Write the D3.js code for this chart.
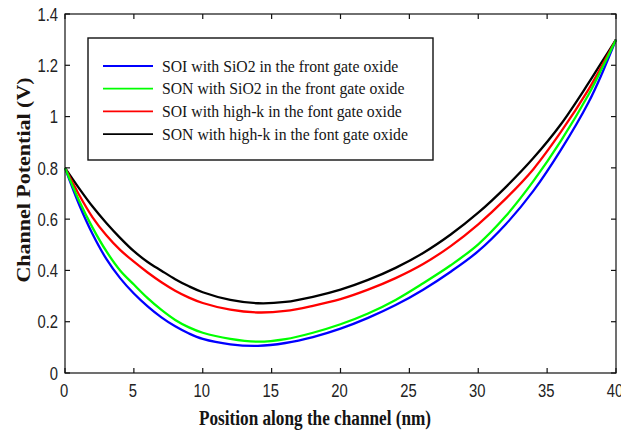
<!DOCTYPE html>
<html>
<head>
<meta charset="utf-8">
<script src="https://cdn.jsdelivr.net/npm/d3@7"></script>
<style>
  html, body { margin: 0; padding: 0; background: #fff; }
  svg { display: block; }
</style>
</head>
<body>
<svg id="chart" width="621" height="435"></svg>
<script>
// Position along the channel (nm)
const positions = [0, 1, 2, 3, 4, 5, 6, 7, 8, 9, 10, 12, 14, 16, 18, 20, 22, 24, 26, 28, 30, 32, 34, 36, 38, 39, 40];

// Channel potential (V) for each device structure
const soiSiO2 = [0.80, 0.66, 0.542, 0.445, 0.37, 0.31, 0.26, 0.217, 0.182, 0.154, 0.133, 0.112, 0.106, 0.117, 0.14, 0.173, 0.215, 0.265, 0.325, 0.395, 0.475, 0.58, 0.71, 0.87, 1.055, 1.17, 1.30];
const sonSiO2 = [0.80, 0.675, 0.567, 0.475, 0.40, 0.345, 0.292, 0.246, 0.207, 0.178, 0.157, 0.133, 0.122, 0.132, 0.157, 0.19, 0.232, 0.285, 0.35, 0.42, 0.502, 0.612, 0.748, 0.905, 1.085, 1.19, 1.30];
const soiHighK = [0.80, 0.697, 0.607, 0.537, 0.48, 0.434, 0.392, 0.354, 0.321, 0.294, 0.273, 0.247, 0.236, 0.242, 0.262, 0.288, 0.325, 0.37, 0.425, 0.495, 0.58, 0.68, 0.795, 0.94, 1.105, 1.20, 1.30];
const sonHighK = [0.80, 0.722, 0.649, 0.585, 0.527, 0.475, 0.433, 0.399, 0.366, 0.338, 0.315, 0.285, 0.272, 0.277, 0.297, 0.325, 0.363, 0.41, 0.468, 0.54, 0.625, 0.725, 0.838, 0.97, 1.13, 1.215, 1.30];

const seriesNames = [
  "SOI with SiO2 in the front gate oxide",
  "SON with SiO2 in the front gate oxide",
  "SOI with high-k in the font gate oxide",
  "SON with high-k in the font gate oxide"
];
const seriesColors = ["#0000ff", "#00ff00", "#ff0000", "#000000"];
const seriesValues = [soiSiO2, sonSiO2, soiHighK, sonHighK];

const xTicks = [0, 5, 10, 15, 20, 25, 30, 35, 40];
const yTicks = [0, 0.2, 0.4, 0.6, 0.8, 1, 1.2, 1.4];

const svg = d3.select("#chart");
const plotLeft = 65, plotRight = 616, plotTop = 14, plotBottom = 373;

const x = d3.scaleLinear().domain([0, 40]).range([plotLeft, plotRight]);
const y = d3.scaleLinear().domain([0, 1.4]).range([plotBottom, plotTop]);

// Curves (drawn under the frame)
const line = d3.line()
  .x((d, i) => x(positions[i]))
  .y(d => y(d))
  .curve(d3.curveCatmullRom.alpha(0.5));

const drawOrder = [3, 2, 0, 1];
svg.append("g").selectAll("path")
  .data(drawOrder)
  .join("path")
  .attr("d", k => line(seriesValues[k]))
  .attr("fill", "none")
  .attr("stroke", k => seriesColors[k])
  .attr("stroke-width", 2.3)
  .attr("stroke-linejoin", "round");

// Frame with inward ticks on all four sides
const frame = svg.append("g").attr("stroke", "#111").attr("stroke-width", 1.2).attr("fill", "none");
frame.append("rect")
  .attr("x", plotLeft).attr("y", plotTop)
  .attr("width", plotRight - plotLeft).attr("height", plotBottom - plotTop);

const tickLen = 5;
xTicks.forEach(t => {
  frame.append("line").attr("x1", x(t)).attr("x2", x(t)).attr("y1", plotBottom).attr("y2", plotBottom - tickLen);
  frame.append("line").attr("x1", x(t)).attr("x2", x(t)).attr("y1", plotTop).attr("y2", plotTop + tickLen);
});
yTicks.forEach(t => {
  frame.append("line").attr("x1", plotLeft).attr("x2", plotLeft + tickLen).attr("y1", y(t)).attr("y2", y(t));
  frame.append("line").attr("x1", plotRight).attr("x2", plotRight - tickLen).attr("y1", y(t)).attr("y2", y(t));
});

// Tick labels in a narrow sans face
const tickFont = "'Liberation Sans', Arial, sans-serif";
svg.append("g").selectAll("g")
  .data(yTicks)
  .join("g")
  .attr("transform", d => `translate(${plotLeft - 7},${y(d)}) scale(0.8,1)`)
  .append("text")
  .attr("text-anchor", "end")
  .attr("dy", "0.36em")
  .attr("font-family", tickFont)
  .attr("font-size", 18.5)
  .attr("fill", "#222")
  .text(d => d3.format("~g")(d));

svg.append("g").selectAll("g")
  .data(xTicks)
  .join("g")
  .attr("transform", d => `translate(${x(d) - 1},${plotBottom + 24}) scale(0.8,1)`)
  .append("text")
  .attr("text-anchor", "middle")
  .attr("font-family", tickFont)
  .attr("font-size", 18.5)
  .attr("fill", "#222")
  .text(d => d);

// Axis titles
const titleFont = "'Liberation Serif', 'Times New Roman', serif";
svg.append("g")
  .attr("transform", "translate(315,425) scale(0.8,1)")
  .append("text")
  .attr("text-anchor", "middle")
  .attr("font-family", titleFont)
  .attr("font-weight", "bold")
  .attr("font-size", 21.5)
  .attr("fill", "#141414")
  .text("Position along the channel (nm)");

svg.append("text")
  .attr("transform", "translate(30,180) rotate(-90) scale(1,0.85)")
  .attr("text-anchor", "middle")
  .attr("font-family", titleFont)
  .attr("font-weight", "bold")
  .attr("font-size", 22)
  .attr("fill", "#1a1410")
  .text("Channel Potential (V)");

// Legend
const legend = svg.append("g");
legend.append("rect")
  .attr("x", 88).attr("y", 38)
  .attr("width", 345).attr("height", 122)
  .attr("fill", "#fff")
  .attr("stroke", "#111")
  .attr("stroke-width", 1.4);

const rowY = i => 66 + i * 22.7;
const rows = legend.selectAll("g.row")
  .data(seriesNames)
  .join("g")
  .attr("class", "row");
rows.append("line")
  .attr("x1", 103).attr("x2", 153)
  .attr("y1", (d, i) => rowY(i)).attr("y2", (d, i) => rowY(i))
  .attr("stroke", (d, i) => seriesColors[i])
  .attr("stroke-width", 1.8);
rows.append("g")
  .attr("transform", (d, i) => `translate(162,${rowY(i)}) scale(0.9,1)`)
  .append("text")
  .attr("dy", "0.33em")
  .attr("font-family", titleFont)
  .attr("font-size", 17.5)
  .attr("fill", "#141414")
  .text(d => d);
</script>
</body>
</html>
